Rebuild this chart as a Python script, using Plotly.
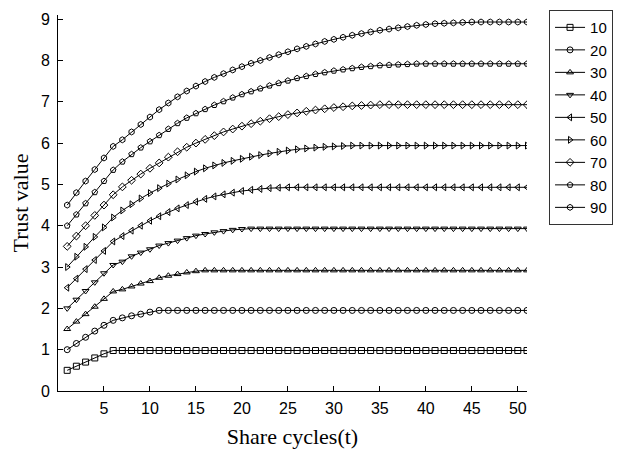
import plotly.graph_objects as go

cycles = list(range(1, 52))

series_names = ["10", "20", "30", "40", "50", "60", "70", "80", "90"]

s10 = [0.50, 0.60, 0.70, 0.80, 0.90, 0.98, 0.98, 0.98, 0.98, 0.98,
       0.98, 0.98, 0.98, 0.98, 0.98, 0.98, 0.98, 0.98, 0.98, 0.98,
       0.98, 0.98, 0.98, 0.98, 0.98, 0.98, 0.98, 0.98, 0.98, 0.98,
       0.98, 0.98, 0.98, 0.98, 0.98, 0.98, 0.98, 0.98, 0.98, 0.98,
       0.98, 0.98, 0.98, 0.98, 0.98, 0.98, 0.98, 0.98, 0.98, 0.98,
       0.98]
s20 = [1.00, 1.15, 1.30, 1.45, 1.59, 1.71, 1.77, 1.82, 1.86, 1.91,
       1.95, 1.95, 1.95, 1.95, 1.95, 1.95, 1.95, 1.95, 1.95, 1.95,
       1.95, 1.95, 1.95, 1.95, 1.95, 1.95, 1.95, 1.95, 1.95, 1.95,
       1.95, 1.95, 1.95, 1.95, 1.95, 1.95, 1.95, 1.95, 1.95, 1.95,
       1.95, 1.95, 1.95, 1.95, 1.95, 1.95, 1.95, 1.95, 1.95, 1.95,
       1.95]
s30 = [1.50, 1.68, 1.86, 2.04, 2.23, 2.41, 2.46, 2.53, 2.60, 2.66,
       2.74, 2.79, 2.83, 2.87, 2.90, 2.92, 2.92, 2.92, 2.92, 2.92,
       2.92, 2.92, 2.92, 2.92, 2.92, 2.92, 2.92, 2.92, 2.92, 2.92,
       2.92, 2.92, 2.92, 2.92, 2.92, 2.92, 2.92, 2.92, 2.92, 2.92,
       2.92, 2.92, 2.92, 2.92, 2.92, 2.92, 2.92, 2.92, 2.92, 2.92,
       2.92]
s40 = [2.00, 2.21, 2.42, 2.63, 2.85, 3.05, 3.13, 3.26, 3.35, 3.43,
       3.52, 3.58, 3.64, 3.70, 3.76, 3.80, 3.84, 3.87, 3.90, 3.92,
       3.93, 3.93, 3.93, 3.93, 3.93, 3.93, 3.93, 3.93, 3.93, 3.93,
       3.93, 3.93, 3.93, 3.93, 3.93, 3.93, 3.93, 3.93, 3.93, 3.93,
       3.93, 3.93, 3.93, 3.93, 3.93, 3.93, 3.93, 3.93, 3.93, 3.93,
       3.93]
s50 = [2.50, 2.72, 2.95, 3.17, 3.39, 3.62, 3.75, 3.88, 4.00, 4.12,
       4.23, 4.33, 4.42, 4.50, 4.58, 4.65, 4.71, 4.76, 4.80, 4.84,
       4.87, 4.89, 4.91, 4.92, 4.93, 4.93, 4.93, 4.93, 4.93, 4.93,
       4.93, 4.93, 4.93, 4.93, 4.93, 4.93, 4.93, 4.93, 4.93, 4.93,
       4.93, 4.93, 4.93, 4.93, 4.93, 4.93, 4.93, 4.93, 4.93, 4.93,
       4.93]
s60 = [3.00, 3.25, 3.49, 3.73, 3.96, 4.20, 4.37, 4.52, 4.66, 4.79,
       4.91, 5.02, 5.12, 5.22, 5.31, 5.39, 5.46, 5.52, 5.57, 5.62,
       5.67, 5.71, 5.75, 5.79, 5.82, 5.85, 5.87, 5.89, 5.91, 5.92,
       5.93, 5.94, 5.94, 5.94, 5.94, 5.94, 5.94, 5.94, 5.94, 5.94,
       5.94, 5.94, 5.94, 5.94, 5.94, 5.94, 5.94, 5.94, 5.94, 5.94,
       5.94]
s70 = [3.50, 3.75, 4.00, 4.25, 4.50, 4.75, 4.94, 5.10, 5.25, 5.39,
       5.52, 5.66, 5.79, 5.90, 6.00, 6.09, 6.18, 6.27, 6.34, 6.41,
       6.47, 6.53, 6.59, 6.64, 6.69, 6.73, 6.77, 6.80, 6.83, 6.86,
       6.88, 6.90, 6.91, 6.92, 6.93, 6.93, 6.93, 6.93, 6.93, 6.93,
       6.93, 6.93, 6.93, 6.93, 6.93, 6.93, 6.93, 6.93, 6.93, 6.93,
       6.93]
s80 = [4.00, 4.27, 4.54, 4.81, 5.08, 5.35, 5.55, 5.73, 5.89, 6.04,
       6.19, 6.34, 6.48, 6.61, 6.72, 6.82, 6.92, 7.01, 7.10, 7.18,
       7.25, 7.32, 7.39, 7.45, 7.51, 7.57, 7.62, 7.67, 7.71, 7.75,
       7.78, 7.81, 7.84, 7.86, 7.88, 7.89, 7.90, 7.91, 7.92, 7.92,
       7.92, 7.92, 7.92, 7.92, 7.92, 7.92, 7.92, 7.92, 7.92, 7.92,
       7.92]
s90 = [4.50, 4.80, 5.08, 5.36, 5.64, 5.92, 6.08, 6.27, 6.45, 6.63,
       6.81, 6.97, 7.12, 7.26, 7.38, 7.49, 7.59, 7.68, 7.77, 7.85,
       7.93, 8.00, 8.07, 8.14, 8.21, 8.28, 8.34, 8.40, 8.46, 8.51,
       8.56, 8.61, 8.65, 8.69, 8.73, 8.76, 8.79, 8.82, 8.85, 8.87,
       8.89, 8.90, 8.91, 8.92, 8.93, 8.93, 8.93, 8.93, 8.93, 8.93,
       8.93]

x_ticks = [5, 10, 15, 20, 25, 30, 35, 40, 45, 50]
y_ticks = [0, 1, 2, 3, 4, 5, 6, 7, 8, 9]

all_series = [s10, s20, s30, s40, s50, s60, s70, s80, s90]
symbols = ["square-open", "circle-open", "triangle-up-open", "triangle-down-open",
           "triangle-left-open", "triangle-right-open", "diamond-open",
           "pentagon-open", "hexagon-open"]

fig = go.Figure()
for name, vals, sym in zip(series_names, all_series, symbols):
    fig.add_trace(go.Scatter(
        x=cycles, y=vals, name=name, mode="lines+markers",
        line=dict(color="black", width=1),
        marker=dict(symbol=sym, size=6, color="black", line=dict(color="black", width=1)),
    ))

tick_font = dict(family="Liberation Sans, Arial, sans-serif", size=16, color="black")
title_font = dict(family="Liberation Serif, Times New Roman, serif", size=22, color="black")

# page has an 8px body margin, so the figure is drawn 8px smaller and offset
fig.update_layout(
    width=616, height=442,
    margin=dict(l=50, r=97, t=7, b=59, autoexpand=False),
    paper_bgcolor="white", plot_bgcolor="white",
    showlegend=True,
    legend=dict(
        x=1.047, y=1.013, xanchor="left", yanchor="top",
        bordercolor="#333333", borderwidth=1, bgcolor="white",
        font=dict(family="Liberation Sans, Arial, sans-serif", size=15, color="black"),
        tracegroupgap=0,
    ),
    xaxis=dict(
        range=[0, 51], tickvals=x_ticks, ticks="inside", ticklen=5,
        tickcolor="black", showline=True, linecolor="black", linewidth=1,
        showgrid=False, zeroline=False, tickfont=tick_font, ticklabelstandoff=3,
        title=dict(text="Share cycles(t)", font=title_font, standoff=12),
    ),
    yaxis=dict(
        range=[0, 9.1], tickvals=y_ticks, ticks="inside", ticklen=5,
        tickcolor="black", showline=True, linecolor="black", linewidth=1,
        showgrid=False, zeroline=False, tickfont=tick_font, ticklabelstandoff=4,
        title=dict(text="Trust value", font=title_font, standoff=8),
    ),
)

fig.write_html("out.html")
